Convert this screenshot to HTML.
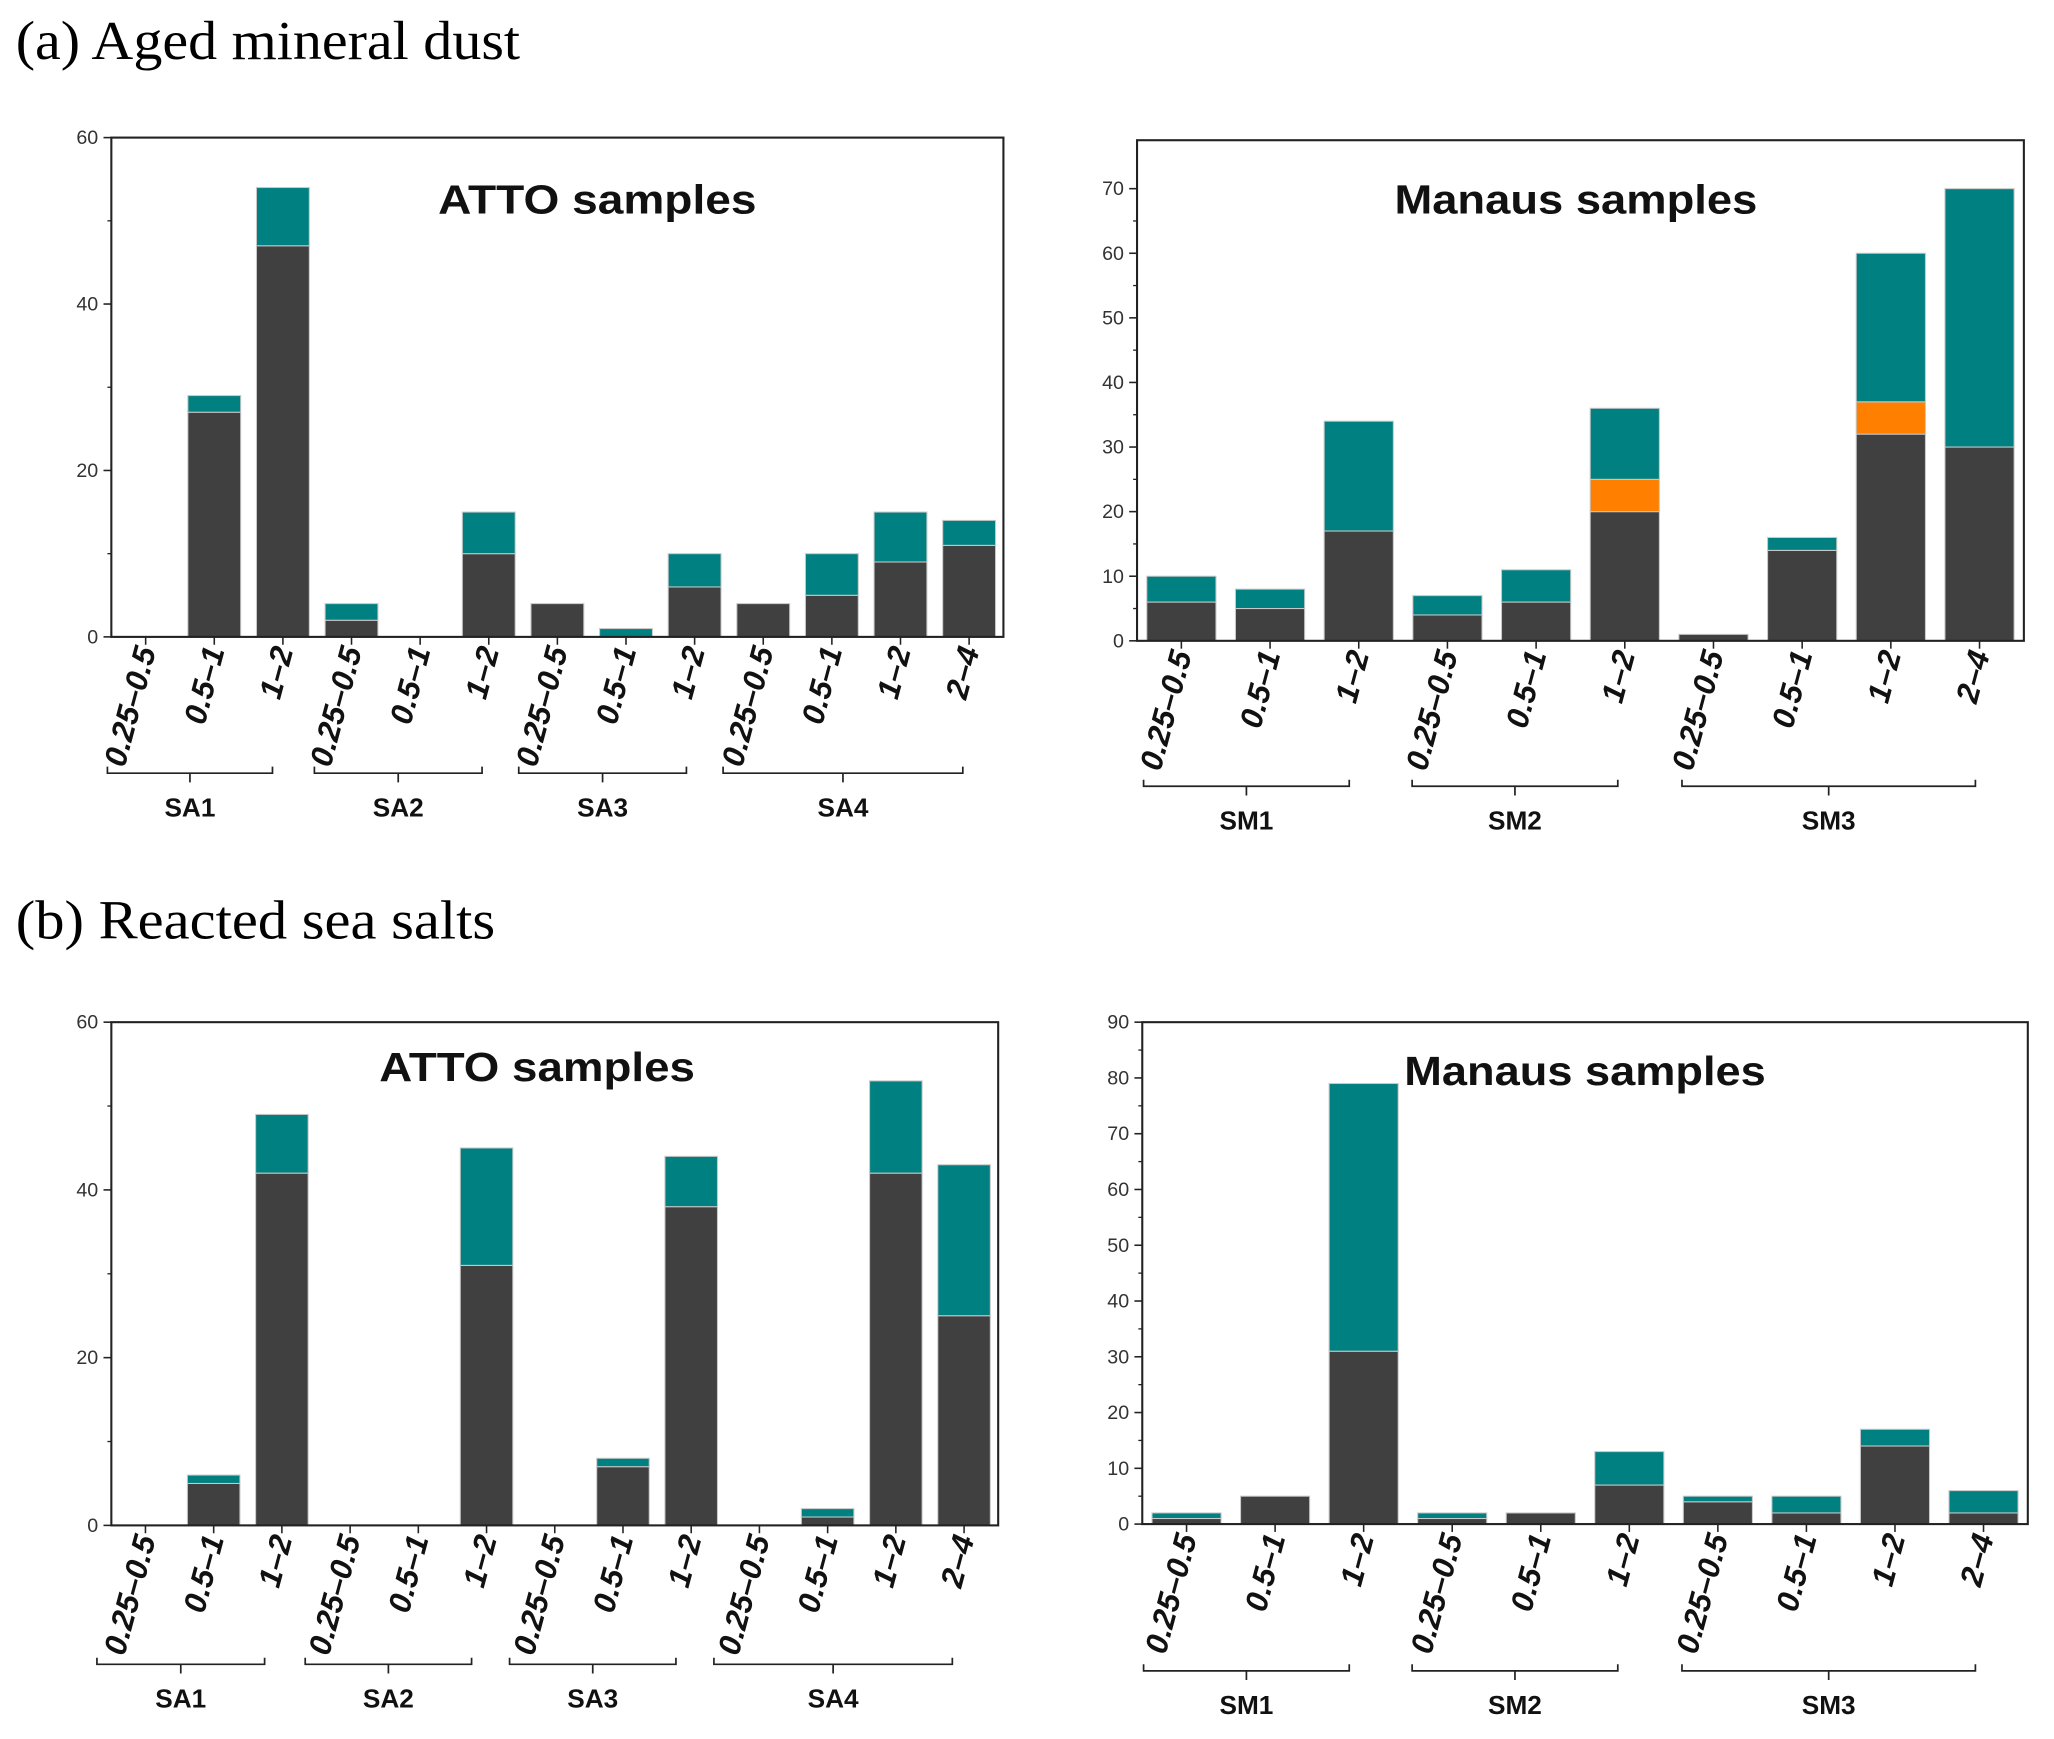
<!DOCTYPE html>
<html><head><meta charset="utf-8"><style>
html,body{margin:0;padding:0;background:#fff}
svg{display:block}
text{font-family:"Liberation Sans",sans-serif}
</style></head><body>
<svg id="fig" width="2054" height="1739" viewBox="0 0 1568 1327" preserveAspectRatio="none" xmlns="http://www.w3.org/2000/svg">
<text x="12" y="45" textLength="385" lengthAdjust="spacingAndGlyphs" style="font-family:'Liberation Serif',serif;font-size:42px">(a) Aged mineral dust</text>
<text x="12" y="716" textLength="366" lengthAdjust="spacingAndGlyphs" style="font-family:'Liberation Serif',serif;font-size:42px">(b) Reacted sea salts</text>
</svg>
<script>
const attoCats = ["0.25–0.5","0.5–1","1–2","0.25–0.5","0.5–1","1–2","0.25–0.5","0.5–1","1–2","0.25–0.5","0.5–1","1–2","2–4"];
const manausCats = ["0.25–0.5","0.5–1","1–2","0.25–0.5","0.5–1","1–2","0.25–0.5","0.5–1","1–2","2–4"];
const attoGroups = ["SA1","SA2","SA3","SA4"];
const manausGroups = ["SM1","SM2","SM3"];
// (a) ATTO: dark base, total incl. teal
const aAttoDark = [0,27,47,2,0,10,4,0,6,4,5,9,11];
const aAttoTotal = [0,29,54,4,0,15,4,1,10,4,10,15,14];
// (a) Manaus: dark, dark+orange, total
const aManDark = [6,5,17,4,6,20,1,14,32,30];
const aManOrange = [6,5,17,4,6,25,1,14,37,30];
const aManTotal = [10,8,34,7,11,36,1,16,60,70];
// (b) ATTO
const bAttoDark = [0,5,42,0,0,31,0,7,38,0,1,42,25];
const bAttoTotal = [0,6,49,0,0,45,0,8,44,0,2,53,43];
// (b) Manaus
const bManDark = [1,5,31,1,2,7,4,2,14,2];
const bManTotal = [2,5,79,2,2,13,5,5,17,6];
const attoTicks = [0,20,40,60];
const manATicks = [0,10,20,30,40,50,60,70];
const manBTicks = [0,10,20,30,40,50,60,70,80,90];

const NS="http://www.w3.org/2000/svg";
const svg=document.getElementById('fig');
function mk(tag,attrs,parent){const e=document.createElementNS(NS,tag);for(const k in attrs)e.setAttribute(k,attrs[k]);(parent||svg).appendChild(e);return e;}

function panel(cfg){
  const g=mk('g',{});
  
  
  const {x0,x1,y0,y1,ymax}=cfg;
  const n=cfg.cats.length, slot=(x1-x0)/n;
  const X=i=>x0+slot*(i+0.5);
  const Y=v=>y0-(v/ymax)*(y0-y1);
  const bw=slot*cfg.bw;
  cfg.cats.forEach((c,i)=>{
    let prev=0;
    cfg.layers.forEach((L)=>{
      const v=L.vals[i];
      if(v>prev){
        const r=mk('rect',{x:X(i)-bw/2,y:Y(v),width:bw,height:Y(prev)-Y(v),fill:L.color,stroke:'#c8c8c8','stroke-width':0.8},g);
        
        
        prev=v;
      }
    });
  });
  const fr=mk('rect',{x:x0,y:y1,width:x1-x0,height:y0-y1,fill:'none',stroke:'#222','stroke-width':1.6},g);
  
  
  cfg.ticks.forEach((t,k)=>{
    mk('line',{x1:x0-6,x2:x0,y1:Y(t),y2:Y(t),stroke:'#222','stroke-width':1.2},g);
    const tx=mk('text',{x:x0-10,y:Y(t)+5,'text-anchor':'end','font-size':15,fill:'#333'},g);
    tx.textContent=t;
    
    
    if(k<cfg.ticks.length-1){const m=(t+cfg.ticks[k+1])/2;mk('line',{x1:x0-3,x2:x0,y1:Y(m),y2:Y(m),stroke:'#222','stroke-width':1},g);}
  });
  cfg.cats.forEach((c,i)=>{
    mk('line',{x1:X(i),x2:X(i),y1:y0,y2:y0+6,stroke:'#222','stroke-width':1.2},g);
    const tx=mk('text',{x:0,y:0,'text-anchor':'end','font-size':24,'font-weight':'bold','font-style':'italic',fill:'#111',transform:`translate(${X(i)+8},${y0+10}) rotate(-75)`},g);
    tx.textContent=c;
    
    
  });
  cfg.groups.forEach((gr,k)=>{
    const [a,b]=cfg.gpos[k], by=cfg.by, mid=(a+b)/2;
    const p=mk('path',{d:`M${a} ${by-5}V${by}H${b}V${by-5}M${mid} ${by}V${by+7}`,fill:'none',stroke:'#222','stroke-width':1.3},g);
    
    
    const tx=mk('text',{x:mid,y:by+33,'text-anchor':'middle','font-size':20,'font-weight':'bold',fill:'#111'},g);
    tx.textContent=gr;
    
    
  });
  const tt=mk('text',{x:cfg.tx,y:cfg.ty,'text-anchor':'middle','font-size':31,'font-weight':'bold',fill:'#111',textLength:cfg.tl,lengthAdjust:'spacingAndGlyphs'},g);
  tt.textContent=cfg.title;
  
  
}
const dark='#404040',teal='#008080',orange='#ff8000';
panel({name:'panel-a-atto',x0:85,x1:766,y0:486,y1:105,ymax:60,bw:0.77,cats:attoCats,ticks:attoTicks,
  layers:[{key:'dark',vals:aAttoDark,color:dark},{key:'teal',vals:aAttoTotal,color:teal}],
  groups:attoGroups,gpos:[[82,208],[240,368],[396,524],[552,735]],by:590,title:'ATTO samples',tx:456,ty:163,tl:243});
panel({name:'panel-a-manaus',x0:868,x1:1545,y0:489,y1:107,ymax:77.5,bw:0.78,cats:manausCats,ticks:manATicks,
  layers:[{key:'dark',vals:aManDark,color:dark},{key:'orange',vals:aManOrange,color:orange},{key:'teal',vals:aManTotal,color:teal}],
  groups:manausGroups,gpos:[[873,1030],[1078,1235],[1284,1508]],by:600,title:'Manaus samples',tx:1203,ty:163,tl:277});
panel({name:'panel-b-atto',x0:85,x1:762,y0:1164,y1:780,ymax:60,bw:0.77,cats:attoCats,ticks:attoTicks,
  layers:[{key:'dark',vals:bAttoDark,color:dark},{key:'teal',vals:bAttoTotal,color:teal}],
  groups:attoGroups,gpos:[[74,202],[233,360],[389,516],[545,727]],by:1270,title:'ATTO samples',tx:410,ty:825,tl:241});
panel({name:'panel-b-manaus',x0:872,x1:1548,y0:1163,y1:780,ymax:90,bw:0.78,cats:manausCats,ticks:manBTicks,
  layers:[{key:'dark',vals:bManDark,color:dark},{key:'teal',vals:bManTotal,color:teal}],
  groups:manausGroups,gpos:[[873,1030],[1078,1235],[1284,1508]],by:1275,title:'Manaus samples',tx:1210,ty:828,tl:276});
</script>
</body></html>
